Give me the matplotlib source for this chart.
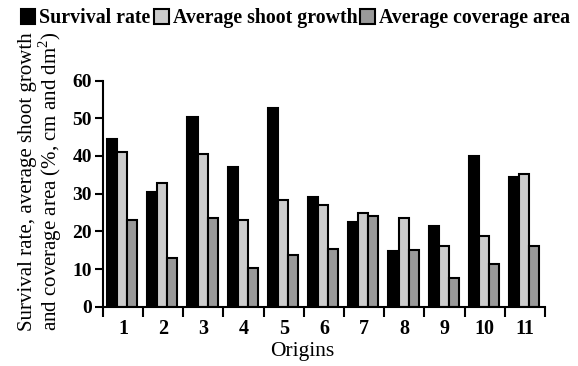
import numpy as np
import matplotlib
matplotlib.use("Agg")
import matplotlib.pyplot as plt
from matplotlib.ticker import FixedLocator, NullFormatter

plt.rcParams['font.family'] = ['Liberation Serif', 'DejaVu Serif']
plt.rcParams['mathtext.fontset'] = 'custom'
plt.rcParams['mathtext.rm'] = 'Liberation Serif'

origins = ["1", "2", "3", "4", "5", "6", "7", "8", "9", "10", "11"]
survival_rate = [44.4, 30.3, 50.2, 37.0, 52.6, 29.1, 22.4, 14.8, 21.5, 40.1, 34.5]
shoot_growth = [41.0, 32.8, 40.6, 23.1, 28.4, 26.9, 24.9, 23.5, 16.1, 18.8, 35.3]
coverage_area = [23.1, 12.8, 23.4, 10.4, 13.7, 15.4, 24.1, 15.1, 7.5, 11.4, 16.2]

series = [
    ("Survival rate", survival_rate, "#000000"),
    ("Average shoot growth", shoot_growth, "#cccccc"),
    ("Average coverage area", coverage_area, "#999999"),
]

fig = plt.figure(figsize=(5.78, 3.66), dpi=100)
ax = fig.add_axes([0.178, 0.162, 0.765, 0.618])

x = np.arange(1, len(origins) + 1)
w = 0.25
for i, (name, vals, col) in enumerate(series):
    ax.bar(x + (i - 1) * w - 0.02, vals, w, color=col, edgecolor="black",
           linewidth=1.5, label=name)

ax.set_xlim(0.5, len(origins) + 0.5)
ax.set_ylim(0, 60)
ax.set_yticks(range(0, 61, 10))
ax.xaxis.set_major_locator(FixedLocator(np.arange(0.5, len(origins) + 1, 1)))
ax.xaxis.set_major_formatter(NullFormatter())
ax.xaxis.set_minor_locator(FixedLocator(x))
ax.set_xticklabels(origins, minor=True)
ax.tick_params(axis="x", which="major", direction="out", length=7, width=1.5)
ax.tick_params(axis="x", which="minor", length=0, pad=9)
ax.tick_params(axis="y", direction="out", length=6, width=1.5, pad=2)
for lab in ax.get_yticklabels():
    lab.set_fontsize(14)
    lab.set_fontweight("bold")
for lab in ax.get_xticklabels(minor=True):
    lab.set_fontsize(14.5)
    lab.set_fontweight("bold")

for s in ["top", "right"]:
    ax.spines[s].set_visible(False)
for s in ["left", "bottom"]:
    ax.spines[s].set_linewidth(1.5)

ax.set_xlabel("Origins", fontsize=15.5)
ax.xaxis.set_label_coords(0.45, -0.155)
ax.set_ylabel("Survival rate, average shoot growth\nand coverage area (%, cm and dm$^{\\mathrm{2}}$)",
              fontsize=15, linespacing=0.95)
ax.yaxis.set_label_coords(-0.088, 0.555)

fig.legend(loc="upper left", bbox_to_anchor=(0.015, 1.01), ncol=3, frameon=False,
           handlelength=0.75, handleheight=0.75, handletextpad=0.2,
           columnspacing=0.15, borderaxespad=0.2,
           prop={"size": 14.3, "weight": "bold"})

fig.savefig("out.png", dpi=100)
